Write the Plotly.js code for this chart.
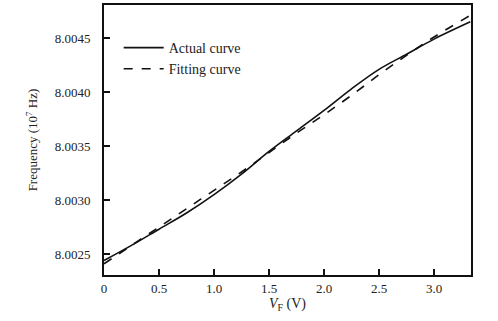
<!DOCTYPE html>
<html>
<head>
<meta charset="utf-8">
<script src="https://cdn.plot.ly/plotly-3.0.1.min.js"></script>
<style>html,body{margin:0;padding:0;background:#fff;}#chart{width:498px;height:321px;}</style>
</head>
<body>
<div id="chart"></div>
<script>
const voltage = [0, 0.25, 0.5, 0.75, 1.0, 1.25, 1.5, 1.75, 2.0, 2.25, 2.5, 2.75, 3.0, 3.33];
const actualFreq = [8.00244, 8.00258, 8.00273, 8.00288, 8.00305, 8.00324, 8.00345, 8.00364, 8.00383, 8.00403, 8.00421, 8.00435, 8.00449, 8.00465];
const fittingFreq = [8.00241, 8.00258, 8.00275, 8.00292, 8.00309, 8.00326, 8.00344, 8.00362, 8.00379, 8.00397, 8.00416, 8.00434, 8.00451, 8.00471];
const xTickVals = [0, 0.5, 1.0, 1.5, 2.0, 2.5, 3.0];
const xTickText = ["0", "0.5", "1.0", "1.5", "2.0", "2.5", "3.0"];
const yTickVals = [8.0025, 8.0030, 8.0035, 8.0040, 8.0045];
const yTickText = ["8.0025", "8.0030", "8.0035", "8.0040", "8.0045"];

const font = {family: "Liberation Serif, Times New Roman, serif", color: "#222", size: 13};

const traces = [
  {x: voltage, y: actualFreq, name: "Actual curve", mode: "lines", line: {color: "#111", width: 1.6, shape: "spline", smoothing: 1}},
  {x: voltage, y: fittingFreq, name: "Fitting curve", mode: "lines", line: {color: "#111", width: 1.6, dash: "dash", shape: "spline", smoothing: 1}}
];

const layout = {
  width: 498, height: 321,
  margin: {l: 104, r: 27, t: 5, b: 46},
  paper_bgcolor: "#fff", plot_bgcolor: "#fff",
  font: font,
  showlegend: true,
  legend: {x: 0.04, y: 0.9, xanchor: "left", yanchor: "top", bgcolor: "rgba(0,0,0,0)", font: {family: font.family, size: 14, color: "#222"}, tracegroupgap: 0, itemwidth: 40},
  xaxis: {
    range: [0, 3.336], tickmode: "array", tickvals: xTickVals, ticktext: xTickText,
    ticks: "inside", ticklen: 6, tickwidth: 1.5, tickcolor: "#111",
    showline: true, linecolor: "#111", linewidth: 2, mirror: true,
    showgrid: false, zeroline: false,
    tickfont: font,
    title: {text: "<i>V</i><sub>F</sub> (V)", font: {family: font.family, size: 14, color: "#222"}, standoff: 4}
  },
  yaxis: {
    range: [8.002306, 8.004806], tickmode: "array", tickvals: yTickVals, ticktext: yTickText,
    ticks: "inside", ticklen: 6, tickwidth: 1.5, tickcolor: "#111",
    showline: true, linecolor: "#111", linewidth: 2, mirror: true,
    showgrid: false, zeroline: false,
    tickfont: font, ticklabelstandoff: 9,
    title: {text: "Frequency (10<sup>7</sup> Hz)", font: {family: font.family, size: 13, color: "#222"}, standoff: 14}
  }
};

Plotly.newPlot("chart", traces, layout, {staticPlot: true, displayModeBar: false});
</script>
</body>
</html>
